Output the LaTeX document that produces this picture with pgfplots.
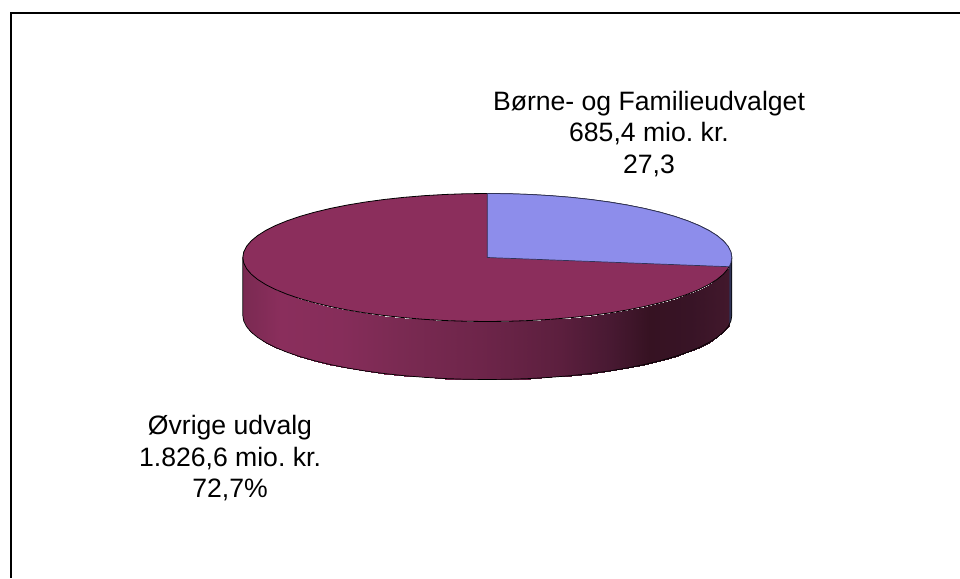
\documentclass[border=0pt]{standalone}
\usepackage{fontspec}
\setmainfont{Liberation Sans}
\usepackage{pgfplots}
\usepackage{pgfplotstable}
\pgfplotsset{compat=1.18}
\definecolor{Maroon3d}{HTML}{8B2E5C}
\definecolor{Periw}{HTML}{8D8DEB}
\definecolor{SideBlue}{HTML}{2F3358}
\frenchspacing

% rim of the disc, clockwise from the top, 5 degree steps
\pgfplotstableread{
x y
487.30 193.50
508.61 193.74
529.76 194.47
550.58 195.68
570.92 197.36
590.63 199.50
609.55 202.07
627.54 205.07
644.46 208.47
660.19 212.25
674.60 216.36
687.58 220.79
699.04 225.50
708.89 230.45
717.05 235.61
723.47 240.94
728.09 246.39
730.87 251.92
731.80 257.50
730.87 263.08
728.09 268.61
723.47 274.06
717.05 279.39
708.89 284.55
699.04 289.50
687.58 294.21
674.60 298.64
660.19 302.75
644.46 306.53
627.54 309.93
609.55 312.93
590.63 315.50
570.92 317.64
550.58 319.32
529.76 320.53
508.61 321.26
487.30 321.50
465.99 321.26
444.84 320.53
424.02 319.32
403.68 317.64
383.97 315.50
365.05 312.93
347.06 309.93
330.14 306.53
314.41 302.75
300.00 298.64
287.02 294.21
275.56 289.50
265.71 284.55
257.55 279.39
251.13 274.06
246.51 268.61
243.73 263.08
242.80 257.50
243.73 251.92
246.51 246.39
251.13 240.94
257.55 235.61
265.71 230.45
275.56 225.50
287.02 220.79
300.00 216.36
314.41 212.25
330.14 208.47
347.06 205.07
365.05 202.07
383.97 199.50
403.68 197.36
424.02 195.68
444.84 194.47
465.99 193.74
487.30 193.50
}\rimtable

% slice Boerne- og Familieudvalget, 685.4 of 2512.0
\pgfplotstableread{
x y
487.30 257.50
487.30 193.50
508.61 193.74
529.76 194.47
550.58 195.68
570.92 197.36
590.63 199.50
609.55 202.07
627.54 205.07
644.46 208.47
660.19 212.25
674.60 216.36
687.58 220.79
699.04 225.50
708.89 230.45
717.05 235.61
723.47 240.94
728.09 246.39
730.87 251.92
731.80 257.50
730.87 263.08
729.25 266.72
487.30 257.50
}\slicetable

% outer wall, pairs of top and bottom points from left to right
\pgfplotstableread{
x y
242.80 257.50
242.80 315.50
243.73 263.08
243.73 321.08
246.51 268.61
246.51 326.61
251.13 274.06
251.13 332.06
257.55 279.39
257.55 337.39
265.71 284.55
265.71 342.55
275.56 289.50
275.56 347.50
287.02 294.21
287.02 352.21
300.00 298.64
300.00 356.64
314.41 302.75
314.41 360.75
330.14 306.53
330.14 364.53
347.06 309.93
347.06 367.93
365.05 312.93
365.05 370.93
383.97 315.50
383.97 373.50
403.68 317.64
403.68 375.64
424.02 319.32
424.02 377.32
444.84 320.53
444.84 378.53
465.99 321.26
465.99 379.26
487.30 321.50
487.30 379.50
508.61 321.26
508.61 379.26
529.76 320.53
529.76 378.53
550.58 319.32
550.58 377.32
570.92 317.64
570.92 375.64
590.63 315.50
590.63 373.50
609.55 312.93
609.55 370.93
627.54 309.93
627.54 367.93
644.46 306.53
644.46 364.53
660.19 302.75
660.19 360.75
674.60 298.64
674.60 356.64
687.58 294.21
687.58 352.21
699.04 289.50
699.04 347.50
708.89 284.55
708.89 342.55
717.05 279.39
717.05 337.39
723.47 274.06
723.47 332.06
728.09 268.61
728.09 326.61
729.25 266.72
729.25 324.72
}\walltable

\begin{document}
\begin{tikzpicture}
\begin{axis}[
  scale only axis,
  width=960pt,
  height=578pt,
  xmin=0, xmax=960,
  ymin=0, ymax=578,
  y dir=reverse,
  hide axis,
  clip=true,
  colormap={wall}{
    rgb255(243)=(122,42,82)
    rgb255(280)=(138,46,92)
    rgb255(340)=(134,45,90)
    rgb255(400)=(122,42,82)
    rgb255(480)=(110,37,74)
    rgb255(560)=(92,31,62)
    rgb255(610)=(72,25,50)
    rgb255(650)=(54,18,34)
    rgb255(690)=(56,20,38)
    rgb255(730)=(66,24,44)
  },
  point meta min=243,
  point meta max=730,
]
% keeps the whole page in the picture
\path (axis cs:0,0) -- (axis cs:960,578);

% frame, open at the right and the bottom
\addplot[no markers, line width=2.4pt, black] coordinates {(10,13) (960,13)};
\addplot[no markers, line width=2.6pt, black!65] coordinates {(11,13) (11,578)};
\addplot[no markers, line width=1.2pt, black] coordinates {(11,13) (11,578)};

% wall
\addplot[surf, shader=interp, mesh/cols=2, point meta=x] table {\walltable};
\addplot[no markers, draw=none, fill=SideBlue] coordinates {
  (729.25,266.72) (730.87,263.08) (731.80,257.50) (731.80,315.50) (730.87,321.08) (729.25,324.72)} -- cycle;
\addplot[no markers, black, line width=0.7pt] coordinates {
  (242.80,257.50) (242.80,315.50) (243.73,321.08) (246.51,326.61) (251.13,332.06) (257.55,337.39)
  (265.71,342.55) (275.56,347.50) (287.02,352.21) (300.00,356.64) (314.41,360.75) (330.14,364.53)
  (347.06,367.93) (365.05,370.93) (383.97,373.50) (403.68,375.64) (424.02,377.32) (444.84,378.53)
  (465.99,379.26) (487.30,379.50) (508.61,379.26) (529.76,378.53) (550.58,377.32) (570.92,375.64)
  (590.63,373.50) (609.55,370.93) (627.54,367.93) (644.46,364.53) (660.19,360.75) (674.60,356.64)
  (687.58,352.21) (699.04,347.50) (708.89,342.55) (717.05,337.39) (723.47,332.06) (728.09,326.61)
  (730.87,321.08) (731.80,315.50) (731.80,257.50)};

% top of the disc
\addplot[no markers, fill=Maroon3d, draw=black, line width=0.8pt] table {\rimtable};
\addplot[no markers, fill=Periw, draw=SideBlue, line width=0.7pt] table {\slicetable};

\node[align=center, font=\fontsize{26.6}{31.5}\selectfont] at (axis cs:649,134) {Børne- og Familieudvalget\\685,4 mio. kr.\\27,3};
\node[align=center, font=\fontsize{26.6}{31.5}\selectfont] at (axis cs:230,458.5) {Øvrige udvalg\\1.826,6 mio. kr.\\72,7\%};
\end{axis}
\end{tikzpicture}
\end{document}
